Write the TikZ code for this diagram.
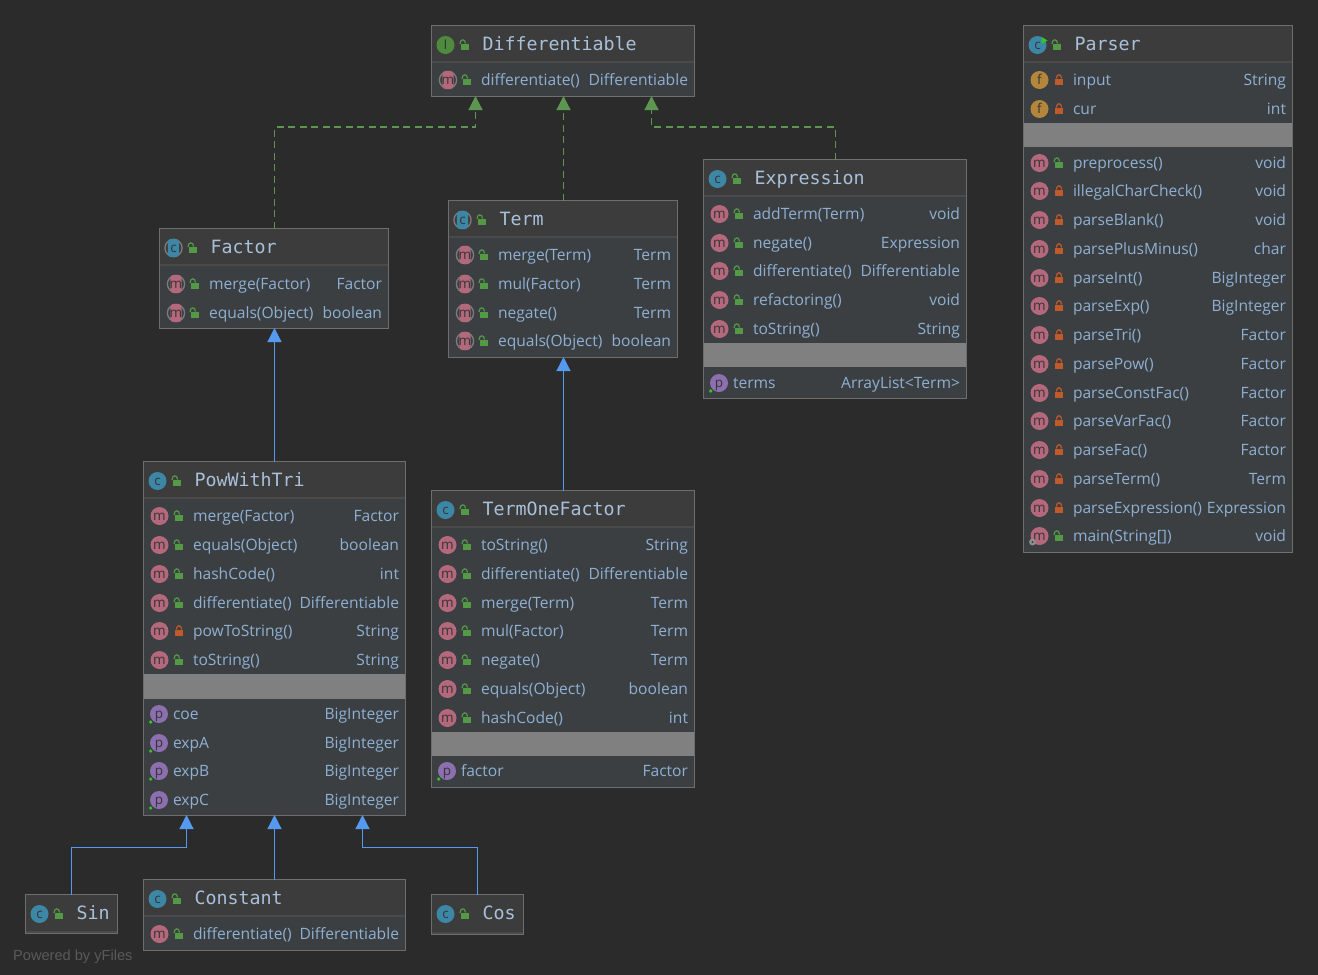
\documentclass[tikz,border=0pt]{standalone}
\usepackage{fontspec}
\setmainfont{Open Sans}
\newfontfamily\titlefont{DejaVu Sans Mono}
\newfontfamily\markfont{Liberation Sans}
\usetikzlibrary{arrows.meta,calc}
\definecolor{bgc}{HTML}{2B2B2B}
\definecolor{headc}{HTML}{3C3C3C}
\definecolor{rowc}{HTML}{3B3F42}
\definecolor{edgec}{HTML}{6E6E6E}
\definecolor{sepc}{HTML}{4A4A4A}
\definecolor{grayc}{HTML}{808080}
\definecolor{txtc}{HTML}{8FB0D3}
\definecolor{titc}{HTML}{A8C0D9}
\definecolor{bluec}{HTML}{5599F0}
\definecolor{greenc}{HTML}{5C9650}
\definecolor{icc}{HTML}{3D87A6}
\definecolor{icm}{HTML}{B4687C}
\definecolor{icp}{HTML}{8C6FAE}
\definecolor{icf}{HTML}{B4863C}
\definecolor{ici}{HTML}{4E8B3C}
\definecolor{lockg}{HTML}{549A46}
\definecolor{lockr}{HTML}{C05A2A}
\definecolor{icl}{HTML}{353535}
\definecolor{absc}{HTML}{7C7C7C}
\definecolor{markc}{HTML}{5A5A5A}
\tikzset{
  cls/.style={draw=edgec,line width=1pt,fill=rowc,anchor=north west,inner sep=0pt,outer sep=0pt},
  rowtxt/.style={text=txtc,font=\fontsize{15.6}{18}\selectfont,inner sep=0pt,outer sep=0pt},
  tittxt/.style={text=titc,font=\titlefont\fontsize{18.3}{20}\selectfont,inner sep=0pt,outer sep=0pt,anchor=base west},
  iclet/.style={text=icl,font=\fontsize{13.5}{14}\selectfont,inner sep=0pt,outer sep=0pt,anchor=base},
  uarrow/.style={bluec,line width=1.2pt,-{Triangle[length=14pt,width=14pt,fill=bluec]}},
  darrow/.style={greenc,line width=1.2pt,dash pattern=on 7pt off 4.5pt,-{Triangle[length=14pt,width=14pt,fill=greenc,sep=0pt]}}
}
\newcount\nid
\newcommand{\nxt}{\global\advance\nid by 1 }
% icon: x y colour letter
\newcommand{\icn}[4]{\fill[#3] (#1,#2) circle (9);\nxt\node[iclet] (i\the\nid) at (#1,#2+4.2) {#4};}
\newcommand{\icabs}[4]{\draw[absc,line width=1.3pt] (#1,#2) circle (8.6);\fill[#3,rounded corners=3.5pt] (#1-5.6,#2-9.2) rectangle (#1+5.6,#2+9.2);\nxt\node[iclet] (i\the\nid) at (#1,#2+4.2) {#4};}
\newcommand{\lockO}[2]{\fill[lockg] (#1-3.8,#2-1.5) rectangle (#1+4.4,#2+5);
  \draw[lockg,line width=1.2pt] (#1-5,#2-1) .. controls (#1-5,#2-6.5) and (#1+0.5,#2-6.5) .. (#1+0.5,#2-1.5);}
\newcommand{\lockC}[2]{\fill[lockr] (#1-4,#2-1.5) rectangle (#1+4,#2+5);
  \draw[lockr,line width=1.2pt] (#1-2.6,#2-1.5) .. controls (#1-2.6,#2-6.5) and (#1+2.6,#2-6.5) .. (#1+2.6,#2-1.5);}
% class box: name x1 y1 x2 y2 headerY title iconcmd(x,y) 
\newcommand{\cbox}[8]{%
  \def\bx{#2}\def\bX{#4}%
  \node[cls,minimum width=#4pt-#2pt+0.5pt,minimum height=#5pt-#3pt+0.5pt] (#1) at (#2-0.5,#3-0.5) {};
  \fill[headc] (#2,#3) rectangle (#4-0.5,#6);
  \draw[sepc,line width=1.2pt] (#2,#6) -- (#4-0.5,#6);
  \nxt\node[tittxt] (t\the\nid) at (#2+50.5,#3+24.3) {#7};
  \lockO{#2+33}{#3+19}
  #8{#2+13.5}{#3+19}%
}
\newcommand{\icC}[2]{\icn{#1}{#2}{icc}{c}}
\newcommand{\icA}[2]{\icabs{#1}{#2}{icc}{c}}
\newcommand{\icI}[2]{\icn{#1}{#2}{ici}{I}}
\newcommand{\icR}[2]{\icn{#1}{#2}{icc}{c}\fill[green!45!lockg] (#1+4,#2-8) -- (#1+10,#2-4.5) -- (#1+4,#2-1) -- cycle;}
% rows: y name type
\newcommand{\rtext}[4]{\nxt\node[rowtxt,anchor=base west] (n\the\nid) at (\bx+#1,#2+5.5) {#3};
  \node[rowtxt,anchor=base east] (r\the\nid) at (\bX-6,#2+5.5) {#4};}
\newcommand{\mO}[3]{\icn{\bx+15.5}{#1}{icm}{m}\lockO{\bx+35}{#1}\rtext{49}{#1}{#2}{#3}}
\newcommand{\mC}[3]{\icn{\bx+15.5}{#1}{icm}{m}\lockC{\bx+35}{#1}\rtext{49}{#1}{#2}{#3}}
\newcommand{\mA}[3]{\icabs{\bx+16}{#1}{icm}{m}\lockO{\bx+35}{#1}\rtext{49}{#1}{#2}{#3}}
\newcommand{\fC}[3]{\icn{\bx+15.5}{#1}{icf}{f}\lockC{\bx+35}{#1}\rtext{49}{#1}{#2}{#3}}
\newcommand{\pP}[3]{\icn{\bx+15}{#1}{icp}{p}\fill[green!45!lockg] (\bx+6.7,#1+8) circle (1.8);\rtext{29}{#1}{#2}{#3}}
\newcommand{\gapbar}[2]{\fill[grayc] (\bx,#1) rectangle (\bX-0.5,#2);}
\begin{document}
\begin{tikzpicture}[x=1pt,y=-1pt]
\useasboundingbox (0,0) rectangle (1318,975);
\fill[bgc] (0,0) rectangle (1318,975);

% Differentiable
\cbox{diff}{432}{26}{694}{96}{62}{Differentiable}{\icI}
\mA{80}{differentiate()}{Differentiable}

% Parser
\cbox{parser}{1024}{26}{1292}{552}{62}{Parser}{\icR}
\fC{80}{input}{String}
\fC{109}{cur}{int}
\gapbar{123}{147}
\mO{163}{preprocess()}{void}
\mC{191}{illegalCharCheck()}{void}
\mC{220}{parseBlank()}{void}
\mC{249}{parsePlusMinus()}{char}
\mC{278}{parseInt()}{BigInteger}
\mC{306}{parseExp()}{BigInteger}
\mC{335}{parseTri()}{Factor}
\mC{364}{parsePow()}{Factor}
\mC{393}{parseConstFac()}{Factor}
\mC{421}{parseVarFac()}{Factor}
\mC{450}{parseFac()}{Factor}
\mC{479}{parseTerm()}{Term}
\mC{508}{parseExpression()}{Expression}
\mO{536}{main(String[])}{void}
\fill[absc!85!white] (1032.5,542) circle (3.4);
\fill[rowc] (1032.5,542) circle (1.1);

% Factor
\cbox{factor}{160}{229}{388}{328}{265}{Factor}{\icA}
\mA{284}{merge(Factor)}{Factor}
\mA{313}{equals(Object)}{boolean}

% Term
\cbox{term}{449}{201}{677}{357}{237}{Term}{\icA}
\mA{255}{merge(Term)}{Term}
\mA{284}{mul(Factor)}{Term}
\mA{313}{negate()}{Term}
\mA{341}{equals(Object)}{boolean}

% Expression
\cbox{expr}{704}{160}{966}{398}{196}{Expression}{\icC}
\mO{214}{addTerm(Term)}{void}
\mO{243}{negate()}{Expression}
\mO{271}{differentiate()}{Differentiable}
\mO{300}{refactoring()}{void}
\mO{329}{toString()}{String}
\gapbar{343}{367}
\pP{383}{terms}{ArrayList<Term>}

% PowWithTri
\cbox{pow}{144}{462}{405}{815}{498}{PowWithTri}{\icC}
\mO{516}{merge(Factor)}{Factor}
\mO{545}{equals(Object)}{boolean}
\mO{574}{hashCode()}{int}
\mO{603}{differentiate()}{Differentiable}
\mC{631}{powToString()}{String}
\mO{660}{toString()}{String}
\gapbar{674}{699}
\pP{714}{coe}{BigInteger}
\pP{743}{expA}{BigInteger}
\pP{771}{expB}{BigInteger}
\pP{800}{expC}{BigInteger}

% TermOneFactor
\cbox{tof}{432}{491}{694}{787}{527}{TermOneFactor}{\icC}
\mO{545}{toString()}{String}
\mO{574}{differentiate()}{Differentiable}
\mO{603}{merge(Term)}{Term}
\mO{631}{mul(Factor)}{Term}
\mO{660}{negate()}{Term}
\mO{689}{equals(Object)}{boolean}
\mO{718}{hashCode()}{int}
\gapbar{732}{756}
\pP{771}{factor}{Factor}

% Sin, Constant, Cos
\cbox{sin}{26}{895}{117}{933}{932}{Sin}{\icC}
\cbox{const}{144}{880}{405}{950}{916}{Constant}{\icC}
\mO{934}{differentiate()}{Differentiable}
\cbox{cos}{432}{895}{523}{934}{933}{Cos}{\icC}

% connector ends
\coordinate (da) at ($(diff.south west)+(44,0)$);
\coordinate (db) at ($(diff.south west)+(132,0)$);
\coordinate (dc) at ($(diff.south west)+(220,0)$);
\coordinate (pa) at ($(pow.south west)+(43,0)$);
\coordinate (pb) at ($(pow.south west)+(131,0)$);
\coordinate (pc) at ($(pow.south west)+(219,0)$);
\coordinate (fb) at ($(factor.south west)+(115,0)$);
\coordinate (tb) at ($(term.south west)+(115,0)$);
\coordinate (ft) at ($(factor.north west)+(115,0)$);
\coordinate (tt) at ($(term.north west)+(115,0)$);
\coordinate (et) at ($(expr.north west)+(132,0)$);
\coordinate (pt) at ($(pow.north west)+(131,0)$);
\coordinate (ot) at ($(tof.north west)+(132,0)$);
\coordinate (st) at ($(sin.north west)+(46,0)$);
\coordinate (ct) at ($(const.north west)+(131,0)$);
\coordinate (kt) at ($(cos.north west)+(46,0)$);

\draw[darrow] (ft) -- ($(ft)+(0,-101.5)$) -| (da);
\draw[darrow] (tt) -- (db);
\draw[darrow] (et) -- ($(et)+(0,-32.5)$) -| (dc);
\draw[uarrow] (pt) -- (fb);
\draw[uarrow] (ot) -- (tb);
\draw[uarrow] (st) -- ($(st)+(0,-47)$) -| (pa);
\draw[uarrow] (ct) -- (pb);
\draw[uarrow] (kt) -- ($(kt)+(0,-47)$) -| (pc);

\node[text=markc,font=\markfont\fontsize{14.6}{16}\selectfont,anchor=base west,inner sep=0pt] (mark) at (13,960) {Powered by yFiles};
\end{tikzpicture}
\end{document}
